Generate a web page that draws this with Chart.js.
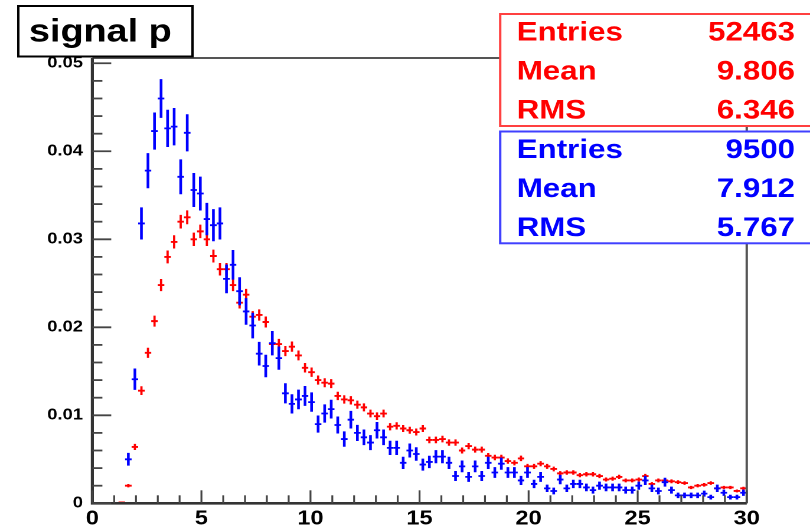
<!DOCTYPE html>
<html>
<head>
<meta charset="utf-8">
<script src="https://cdn.jsdelivr.net/npm/chart.js@4.4.1/dist/chart.umd.min.js"></script>
<style>
  html, body { margin: 0; padding: 0; background: #fff; overflow: hidden; }
  #wrap { width: 686px; height: 528px; transform: scaleX(1.1808); transform-origin: 0 0; }
</style>
</head>
<body>
<div id="wrap"><canvas id="chart" width="686" height="528"></canvas></div>
<script>
// histogram binning: 100 bins from 0 to 30
var binLow = 0, binWidth = 0.3, nBins = 100;

// red histogram (normalised)
var redValues = [
  0, 0, 0, 0, 0.0001, 0.0020, 0.0064, 0.0128, 0.0171, 0.0207,
  0.0248, 0.0280, 0.0297, 0.0320, 0.0325, 0.0300, 0.0309, 0.0300, 0.0281, 0.0266,
  0.0266, 0.0248, 0.0228, 0.0237, 0.0212, 0.0214, 0.0206, 0.0181, 0.0181, 0.0173,
  0.0178, 0.0168, 0.0154, 0.0149, 0.0140, 0.0137, 0.0136, 0.0122, 0.0118, 0.0117,
  0.0112, 0.0109, 0.0102, 0.0099, 0.0102, 0.0087, 0.0088, 0.0085, 0.0083, 0.0081,
  0.0085, 0.0072, 0.0072, 0.0073, 0.0069, 0.0069, 0.0060, 0.0065, 0.0061, 0.0061,
  0.0054, 0.0052, 0.0052, 0.0048, 0.0046, 0.0051, 0.0042, 0.0042, 0.0045, 0.0042,
  0.0039, 0.0034, 0.0035, 0.0035, 0.0032, 0.0033, 0.0033, 0.0031, 0.0027, 0.0028,
  0.0030, 0.0026, 0.0026, 0.0027, 0.0031, 0.0022, 0.0026, 0.0026, 0.0025, 0.0024,
  0.0023, 0.0018, 0.0020, 0.0021, 0.0023, 0.0017, 0.0018, 0.0018, 0.0014, 0.0017
];

// blue histogram (normalised)
var blueValues = [
  0, 0, 0, 0, 0, 0.0050, 0.0141, 0.0318, 0.0378, 0.0423,
  0.0460, 0.0426, 0.0428, 0.0371, 0.0421, 0.0356, 0.0352, 0.0323, 0.0316, 0.0318,
  0.0255, 0.0271, 0.0241, 0.0218, 0.0202, 0.0170, 0.0156, 0.0182, 0.0165, 0.0125,
  0.0113, 0.0118, 0.0122, 0.0115, 0.0090, 0.0102, 0.0107, 0.0089, 0.0073, 0.0095,
  0.0080, 0.0075, 0.0069, 0.0083, 0.0075, 0.0063, 0.0063, 0.0046, 0.0060, 0.0056,
  0.0044, 0.0047, 0.0053, 0.0053, 0.0046, 0.0031, 0.0042, 0.0030, 0.0042, 0.0031,
  0.0046, 0.0035, 0.0045, 0.0035, 0.0035, 0.0026, 0.0035, 0.0022, 0.0030, 0.0017,
  0.0014, 0.0027, 0.0017, 0.0022, 0.0022, 0.0018, 0.0015, 0.0020, 0.0018, 0.0018,
  0.0018, 0.0015, 0.0015, 0.0020, 0.0026, 0.0017, 0.0014, 0.0024, 0.0015, 0.0009,
  0.0009, 0.0009, 0.0009, 0.0011, 0.0007, 0.0017, 0.0012, 0.0007, 0.0007, 0.0012
];

var statNames = ['Entries', 'Mean', 'RMS'];
var redStats = ['52463', '9.806', '6.346'];
var blueStats = ['9500', '7.912', '5.767'];
var redEntries = 52463, blueEntries = 9500;

var xTickLabels = ['0', '5', '10', '15', '20', '25', '30'];
var yTickLabels = ['0', '0.01', '0.02', '0.03', '0.04', '0.05'];
var titleText = 'signal p';

var FONT = '"Liberation Sans", Arial, Helvetica, sans-serif';

function toPoints(values, entries) {
  var pts = [];
  for (var i = 0; i < nBins; i++) {
    if (values[i] > 0) {
      pts.push({ x: binLow + (i + 0.5) * binWidth, y: values[i], err: Math.sqrt(values[i] / entries) });
    }
  }
  return pts;
}

// draws the ROOT style crosses: vertical = error, horizontal = bin width
var errorBars = {
  id: 'errorBars',
  afterDatasetsDraw: function(chart) {
    var ctx = chart.ctx, xs = chart.scales.x, ys = chart.scales.y, a = chart.chartArea;
    ctx.save();
    ctx.beginPath();
    ctx.rect(a.left, a.top, a.right - a.left, a.bottom - a.top);
    ctx.clip();
    chart.data.datasets.forEach(function(ds) {
      ctx.strokeStyle = ds.borderColor;
      ds.data.forEach(function(p) {
        var px = xs.getPixelForValue(p.x);
        var py = ys.getPixelForValue(p.y);
        ctx.lineWidth = ds.vWidth;
        ctx.beginPath();
        ctx.moveTo(px, ys.getPixelForValue(p.y - p.err));
        ctx.lineTo(px, ys.getPixelForValue(p.y + p.err));
        ctx.stroke();
        ctx.lineWidth = ds.hWidth;
        ctx.beginPath();
        ctx.moveTo(xs.getPixelForValue(p.x - binWidth / 2), py);
        ctx.lineTo(xs.getPixelForValue(p.x + binWidth / 2), py);
        ctx.stroke();
      });
    });
    ctx.restore();
  }
};

// frame + inward ticks
var frame = {
  id: 'frame',
  afterDatasetsDraw: function(chart) {
    var ctx = chart.ctx, xs = chart.scales.x, ys = chart.scales.y, a = chart.chartArea;
    ctx.save();
    ctx.strokeStyle = '#555';
    ctx.lineWidth = 2;
    ctx.beginPath();
    ctx.moveTo(a.left, a.top); ctx.lineTo(a.right, a.top); ctx.lineTo(a.right, a.bottom);
    ctx.stroke();
    ctx.strokeStyle = '#333';
    ctx.lineWidth = 2.6;
    ctx.beginPath();
    ctx.moveTo(a.left, a.top); ctx.lineTo(a.left, a.bottom); ctx.lineTo(a.right, a.bottom);
    ctx.stroke();

    ctx.strokeStyle = '#444';
    ctx.lineWidth = 1.8;
    for (var k = 0; k <= 25; k++) {
      var v = k * 0.002;
      var py = ys.getPixelForValue(v);
      ctx.beginPath();
      ctx.moveTo(a.left, py);
      ctx.lineTo(a.left + (k % 5 === 0 ? 16 : 8.5), py);
      ctx.stroke();
    }
    ctx.lineWidth = 1.6;
    for (var j = 0; j <= 30; j++) {
      var px = xs.getPixelForValue(j);
      ctx.beginPath();
      ctx.moveTo(px, a.bottom);
      ctx.lineTo(px, a.bottom - (j % 5 === 0 ? 13 : 8));
      ctx.stroke();
    }
    ctx.restore();
  }
};

// title box and the two stat boxes
var boxes = {
  id: 'boxes',
  afterDraw: function(chart) {
    var ctx = chart.ctx;
    ctx.save();
    // title
    ctx.fillStyle = '#fff';
    ctx.fillRect(15.5, 6, 147.5, 50.5);
    ctx.strokeStyle = '#000';
    ctx.lineWidth = 2;
    ctx.strokeRect(15.5, 6, 147.5, 50.5);
    ctx.fillStyle = '#000';
    ctx.font = 'bold 32px ' + FONT;
    ctx.textBaseline = 'alphabetic';
    ctx.textAlign = 'left';
    ctx.fillText(titleText, 24.5, 41.5);

    function statBox(top, bottom, stroke, color, vals) {
      ctx.fillStyle = '#fff';
      ctx.fillRect(423.6, top, 280, bottom - top);
      ctx.strokeStyle = stroke;
      ctx.lineWidth = 2;
      ctx.strokeRect(423.6, top, 280, bottom - top);
      ctx.fillStyle = color;
      ctx.font = 'bold 26.5px ' + FONT;
      for (var r = 0; r < 3; r++) {
        var base = top + 26.7 + r * 38.8;
        ctx.textAlign = 'left';
        ctx.fillText(statNames[r], 437.6, base);
        ctx.textAlign = 'right';
        ctx.fillText(vals[r], 673.3, base);
      }
    }
    statBox(14, 126, '#ff4040', '#ff0000', redStats);
    statBox(131.5, 243.3, '#4040ff', '#0000ff', blueStats);
    ctx.restore();
  }
};

var chart = new Chart(document.getElementById('chart'), {
  type: 'scatter',
  data: {
    datasets: [
      { label: 'red', data: toPoints(redValues, redEntries), borderColor: '#ff0000', vWidth: 1.9, hWidth: 1.9, pointRadius: 0, pointHoverRadius: 0 },
      { label: 'blue', data: toPoints(blueValues, blueEntries), borderColor: '#0000ff', vWidth: 2.3, hWidth: 1.8, pointRadius: 0, pointHoverRadius: 0 }
    ]
  },
  options: {
    responsive: false,
    animation: false,
    devicePixelRatio: 2,
    layout: { padding: { top: 58, right: 53.6, bottom: 0, left: 0 } },
    plugins: { legend: { display: false }, tooltip: { enabled: false }, title: { display: false } },
    scales: {
      x: {
        type: 'linear', min: 0, max: 30,
        grid: { display: false, drawTicks: false },
        border: { display: false },
        ticks: {
          stepSize: 5, padding: 3.5, color: '#000', maxRotation: 0, autoSkip: false,
          font: { family: FONT, size: 20, weight: 'bold' },
          callback: function(v, i) { return xTickLabels[i]; }
        },
        afterFit: function(s) { s.height = 24.7; }
      },
      y: {
        type: 'linear', min: 0, max: 0.0506,
        grid: { display: false, drawTicks: false },
        border: { display: false },
        ticks: {
          stepSize: 0.01, includeBounds: false, padding: 8, color: '#000',
          font: { family: FONT, size: 15.5, weight: 'bold' },
          callback: function(v, i) { return yTickLabels[i]; }
        },
        afterFit: function(s) { s.width = 78.2; }
      }
    }
  },
  plugins: [errorBars, frame, boxes]
});
</script>
</body>
</html>
